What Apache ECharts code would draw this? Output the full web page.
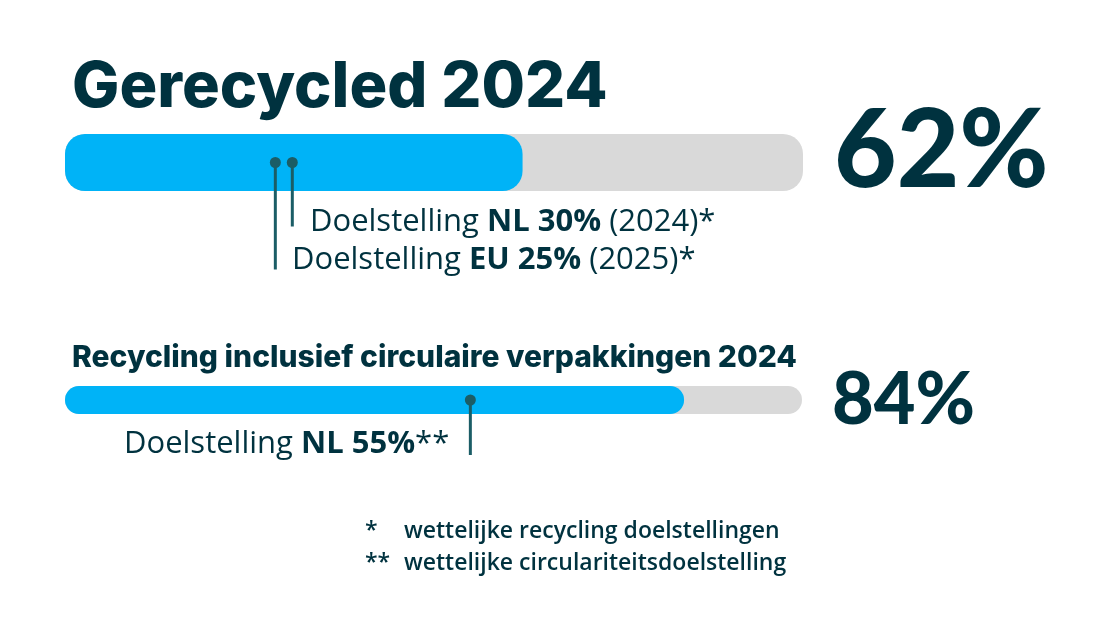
<!DOCTYPE html>
<html><head><meta charset="utf-8">
<script src="https://cdn.jsdelivr.net/npm/echarts@6/dist/echarts.min.js"></script>
<style>html,body{margin:0;padding:0;background:#fff}#c{width:1112px;height:634px}</style>
</head><body><div id="c"></div>
<script>
// ---- data ----
const barNames = ['Gerecycled 2024', 'Recycling inclusief circulaire verpakkingen 2024'];
const barValues = [62, 84];          // percent recycled
const barMax = 100;
// target markers (position), with their labels
const targetsBar1 = [28.5, 30.8];    // EU 25% (2025), NL 30% (2024) marker positions
const targetsBar2 = [55];            // NL 55%
const targetLabels1 = [['Doelstelling ', 'EU 25%', ' (2025)*'], ['Doelstelling ', 'NL 30%', ' (2024)*']];
const targetLabels2 = [['Doelstelling ', 'NL 55%', '**']];
const footnotes = [['*', 'wettelijke recycling doelstellingen'], ['**', 'wettelijke circulariteitsdoelstelling']];

const BLUE = '#00b3f7', GREY = '#d9d9d9', DARK = '#00323f', MARK = '#1b5d66';
const chart = echarts.init(document.getElementById('c'), null, {renderer: 'canvas'});

const lineLens1 = [107, 64];
const lineLens2 = [55];

function markerRender(lens) {
  return function (params, api) {
    const p = api.coord([api.value(0), 0]);
    const len = lens[params.dataIndex];
    return {
      type: 'group',
      children: [
        {type: 'line', shape: {x1: p[0], y1: p[1], x2: p[0], y2: p[1] + len}, style: {stroke: MARK, lineWidth: 3}},
        {type: 'circle', shape: {cx: p[0], cy: p[1], r: 5.5}, style: {fill: MARK}}
      ]
    };
  };
}

function richLabel(parts, x, y, size) {
  return {
    type: 'text', x: x, y: y,
    style: {
      text: '{a|' + parts[0] + '}{b|' + parts[1] + '}{a|' + parts[2] + '}',
      verticalAlign: 'middle',
      rich: {
        a: {fontFamily: 'Open Sans', fontSize: size, fontWeight: 400, fill: DARK, color: DARK},
        b: {fontFamily: 'Open Sans', fontSize: size, fontWeight: 700, fill: DARK, color: DARK}
      }
    }
  };
}

const option = {
  animation: false,
  grid: [
    {left: 65, right: 309, top: 134, height: 57},
    {left: 65, right: 310, top: 386, height: 28}
  ],
  xAxis: [
    {gridIndex: 0, type: 'value', min: 0, max: barMax, show: false},
    {gridIndex: 1, type: 'value', min: 0, max: barMax, show: false}
  ],
  yAxis: [
    {gridIndex: 0, type: 'category', data: [barNames[0]], show: false},
    {gridIndex: 1, type: 'category', data: [barNames[1]], show: false}
  ],
  series: [
    {type: 'bar', xAxisIndex: 0, yAxisIndex: 0, data: [barValues[0]], barWidth: 57,
     showBackground: true, backgroundStyle: {color: GREY, borderRadius: 20},
     itemStyle: {color: BLUE, borderRadius: 20}},
    {type: 'bar', xAxisIndex: 1, yAxisIndex: 1, data: [barValues[1]], barWidth: 28,
     showBackground: true, backgroundStyle: {color: GREY, borderRadius: 14},
     itemStyle: {color: BLUE, borderRadius: 14}},
    {type: 'custom', xAxisIndex: 0, yAxisIndex: 0, data: targetsBar1.map(v => [v, 0]),
     renderItem: markerRender(lineLens1), z: 5},
    {type: 'custom', xAxisIndex: 1, yAxisIndex: 1, data: targetsBar2.map(v => [v, 0]),
     renderItem: markerRender(lineLens2), z: 5}
  ],
  graphic: [
    {type: 'text', x: 72, y: 88, style: {text: barNames[0], fontFamily: 'Inter', fontWeight: 800, fontSize: 63, fill: DARK, verticalAlign: 'middle'}},
    {type: 'text', x: 834, y: 152, style: {text: barValues[0] + '%', fontFamily: 'Lato', fontWeight: 900, fontSize: 108, fill: DARK, verticalAlign: 'middle'}},
    {type: 'text', x: 72, y: 358, style: {text: barNames[1], fontFamily: 'Inter', fontWeight: 800, fontSize: 30, fill: DARK, verticalAlign: 'middle'}},
    {type: 'text', x: 832, y: 401, style: {text: barValues[1] + '%', fontFamily: 'Lato', fontWeight: 900, fontSize: 72, fill: DARK, verticalAlign: 'middle'}},
    richLabel(targetLabels1[1], 310, 222, 31),
    richLabel(targetLabels1[0], 292, 260, 31),
    richLabel(targetLabels2[0], 124, 444, 31),
    {type: 'text', x: 365, y: 531, style: {text: footnotes[0][0], fontFamily: 'Open Sans', fontWeight: 600, fontSize: 23, fill: DARK, verticalAlign: 'middle'}},
    {type: 'text', x: 404, y: 531, style: {text: footnotes[0][1], fontFamily: 'Open Sans', fontWeight: 600, fontSize: 23, fill: DARK, verticalAlign: 'middle'}},
    {type: 'text', x: 365, y: 563, style: {text: footnotes[1][0], fontFamily: 'Open Sans', fontWeight: 600, fontSize: 23, fill: DARK, verticalAlign: 'middle'}},
    {type: 'text', x: 404, y: 563, style: {text: footnotes[1][1], fontFamily: 'Open Sans', fontWeight: 600, fontSize: 23, fill: DARK, verticalAlign: 'middle'}}
  ]
};
chart.setOption(option);
</script></body></html>
